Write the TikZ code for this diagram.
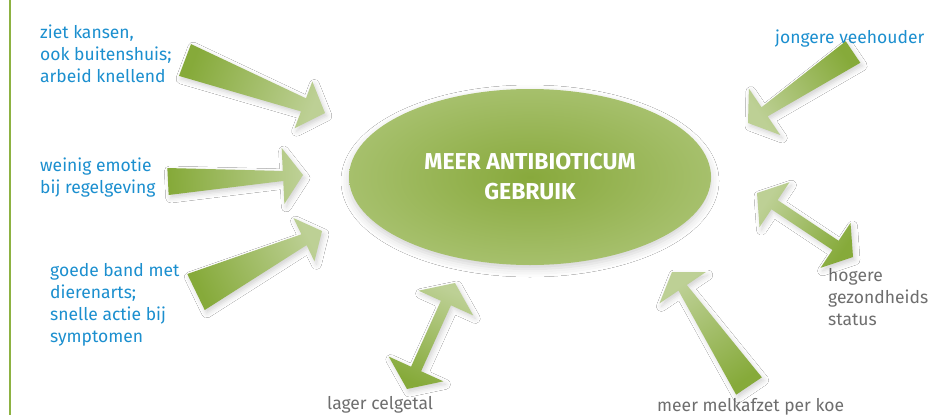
\documentclass[tikz,border=0pt]{standalone}
\usepackage{fontspec}
\setsansfont{Fira Sans}
\usetikzlibrary{calc, shapes.geometric, shadows.blur}

\definecolor{labelblue}{HTML}{1B8FCF}
\definecolor{labelgrey}{HTML}{6E6E6E}
\definecolor{ardark}{HTML}{86AA3A}
\definecolor{arlight}{HTML}{BDD095}
\definecolor{ovalin}{HTML}{88A93C}
\definecolor{ovalout}{HTML}{A6C06C}
\definecolor{rulegreen}{HTML}{8DB242}

% tapered arrow: tail, tip, tail half width, neck half width, head half width, head length
\newcommand{\taperarrow}[6]{%
  \coordinate (hb) at ($(#2)!#6!(#1)$);
  \pgfmathanglebetweenpoints{\pgfpointanchor{#1}{center}}{\pgfpointanchor{#2}{center}}%
  \pgfmathsetmacro\arang{\pgfmathresult-90}%
  \shade[arrowshade, shading angle=\arang]
    ($(#1)!#3!90:(#2)$) -- ($(hb)!#4!90:(#2)$) -- ($(hb)!#5!90:(#2)$) -- (#2)
    -- ($(hb)!#5!-90:(#2)$) -- ($(hb)!#4!-90:(#2)$) -- ($(#1)!#3!-90:(#2)$) -- cycle;
}

% double arrow: inner end, outer end, shaft half width, head half width, head length
\newcommand{\twowayarrow}[5]{%
  \coordinate (ha) at ($(#1)!#5!(#2)$);
  \coordinate (hb) at ($(#2)!#5!(#1)$);
  \pgfmathanglebetweenpoints{\pgfpointanchor{#2}{center}}{\pgfpointanchor{#1}{center}}%
  \pgfmathsetmacro\arang{\pgfmathresult-90}%
  \shade[arrowshade, shading angle=\arang]
    (#1) -- ($(ha)!#4!90:(#2)$) -- ($(ha)!#3!90:(#2)$) -- ($(hb)!#3!-90:(#1)$) -- ($(hb)!#4!-90:(#1)$) -- (#2)
    -- ($(hb)!#4!90:(#1)$) -- ($(hb)!#3!90:(#1)$) -- ($(ha)!#3!-90:(#2)$) -- ($(ha)!#4!-90:(#2)$) -- cycle;
}

\begin{document}
\begin{tikzpicture}[
  x=1pt, y=-1pt,
  font=\sffamily,
  % Label styles (anchored on the baseline of the last line)
  bluelabel/.style={anchor=base west, align=left, inner sep=0pt, text=labelblue, font=\sffamily\fontsize{17.5}{22}\selectfont},
  greylabel/.style={anchor=base west, align=left, inner sep=0pt, text=labelgrey, font=\sffamily\fontsize{17.5}{22}\selectfont},
  % Central oval
  oval/.style={ellipse, minimum width=362pt, minimum height=176pt, inner color=ovalin, outer color=ovalout,
    text=white, align=center, font=\sffamily\bfseries\fontsize{23}{30}\selectfont,
    blur shadow={shadow xshift=0pt, shadow yshift=-4pt, shadow blur radius=8pt, shadow opacity=18}},
  % Arrow fill
  arrowshade/.style={top color=arlight, bottom color=ardark,
    blur shadow={shadow xshift=2pt, shadow yshift=-3pt, shadow blur radius=5pt, shadow opacity=18}}
]
  \fill[white] (0,0) rectangle (944,415);
  \useasboundingbox (0,0) rectangle (944,415);

  % ==========================================
  % LEFT RULE AND CENTRAL OVAL
  % ==========================================
  \draw[rulegreen, line width=2pt] (10,0) -- (10,415);

  \node[oval] (gebruik) at (530,177) {MEER ANTIBIOTICUM\\GEBRUIK};

  % ==========================================
  % LABELS
  % ==========================================
  \node[bluelabel] (kansen) at (40,82) {ziet kansen,\\ook buitenshuis;\\arbeid knellend};
  \node[bluelabel] (emotie) at (40,193) {weinig emotie\\bij regelgeving};
  \node[bluelabel] (band) at (50,342) {goede band met\\dierenarts;\\snelle actie bij\\symptomen};
  \node[bluelabel] (jong) at (775,43) {jongere veehouder};
  \node[greylabel] (gezond) at (828,325) {hogere\\gezondheids\\status};
  \node[greylabel] (melk) at (657,411) {meer melkafzet per koe};
  \node[greylabel] (cel) at (327,409) {lager celgetal};

  % ==========================================
  % ARROWS TOWARDS THE OVAL
  % ==========================================
  \coordinate (kansen-tail) at (185,60);
  \coordinate (kansen-tip) at (325,113);
  \taperarrow{kansen-tail}{kansen-tip}{17pt}{7pt}{25pt}{23pt}

  \coordinate (emotie-tail) at (168,181.5);
  \coordinate (emotie-tip) at (303,175);
  \taperarrow{emotie-tail}{emotie-tip}{13.5pt}{5pt}{28pt}{20pt}

  \coordinate (band-tail) at (196,292);
  \coordinate (band-tip) at (322,231);
  \taperarrow{band-tail}{band-tip}{20pt}{6pt}{24pt}{20pt}

  \coordinate (jong-tail) at (853,52);
  \coordinate (jong-tip) at (748,123);
  \taperarrow{jong-tail}{jong-tip}{13pt}{5.5pt}{28pt}{20pt}

  \coordinate (melk-tail) at (749,386);
  \coordinate (melk-tip) at (672,272);
  \taperarrow{melk-tail}{melk-tip}{15.5pt}{5pt}{28pt}{19pt}

  % ==========================================
  % TWO-WAY ARROWS
  % ==========================================
  \coordinate (gezond-in) at (757,193);
  \coordinate (gezond-out) at (853,257);
  \twowayarrow{gezond-in}{gezond-out}{5.5pt}{27pt}{21pt}

  \coordinate (cel-in) at (455,283);
  \coordinate (cel-out) at (407,389);
  \twowayarrow{cel-in}{cel-out}{5.5pt}{30pt}{22pt}

\end{tikzpicture}
\end{document}
